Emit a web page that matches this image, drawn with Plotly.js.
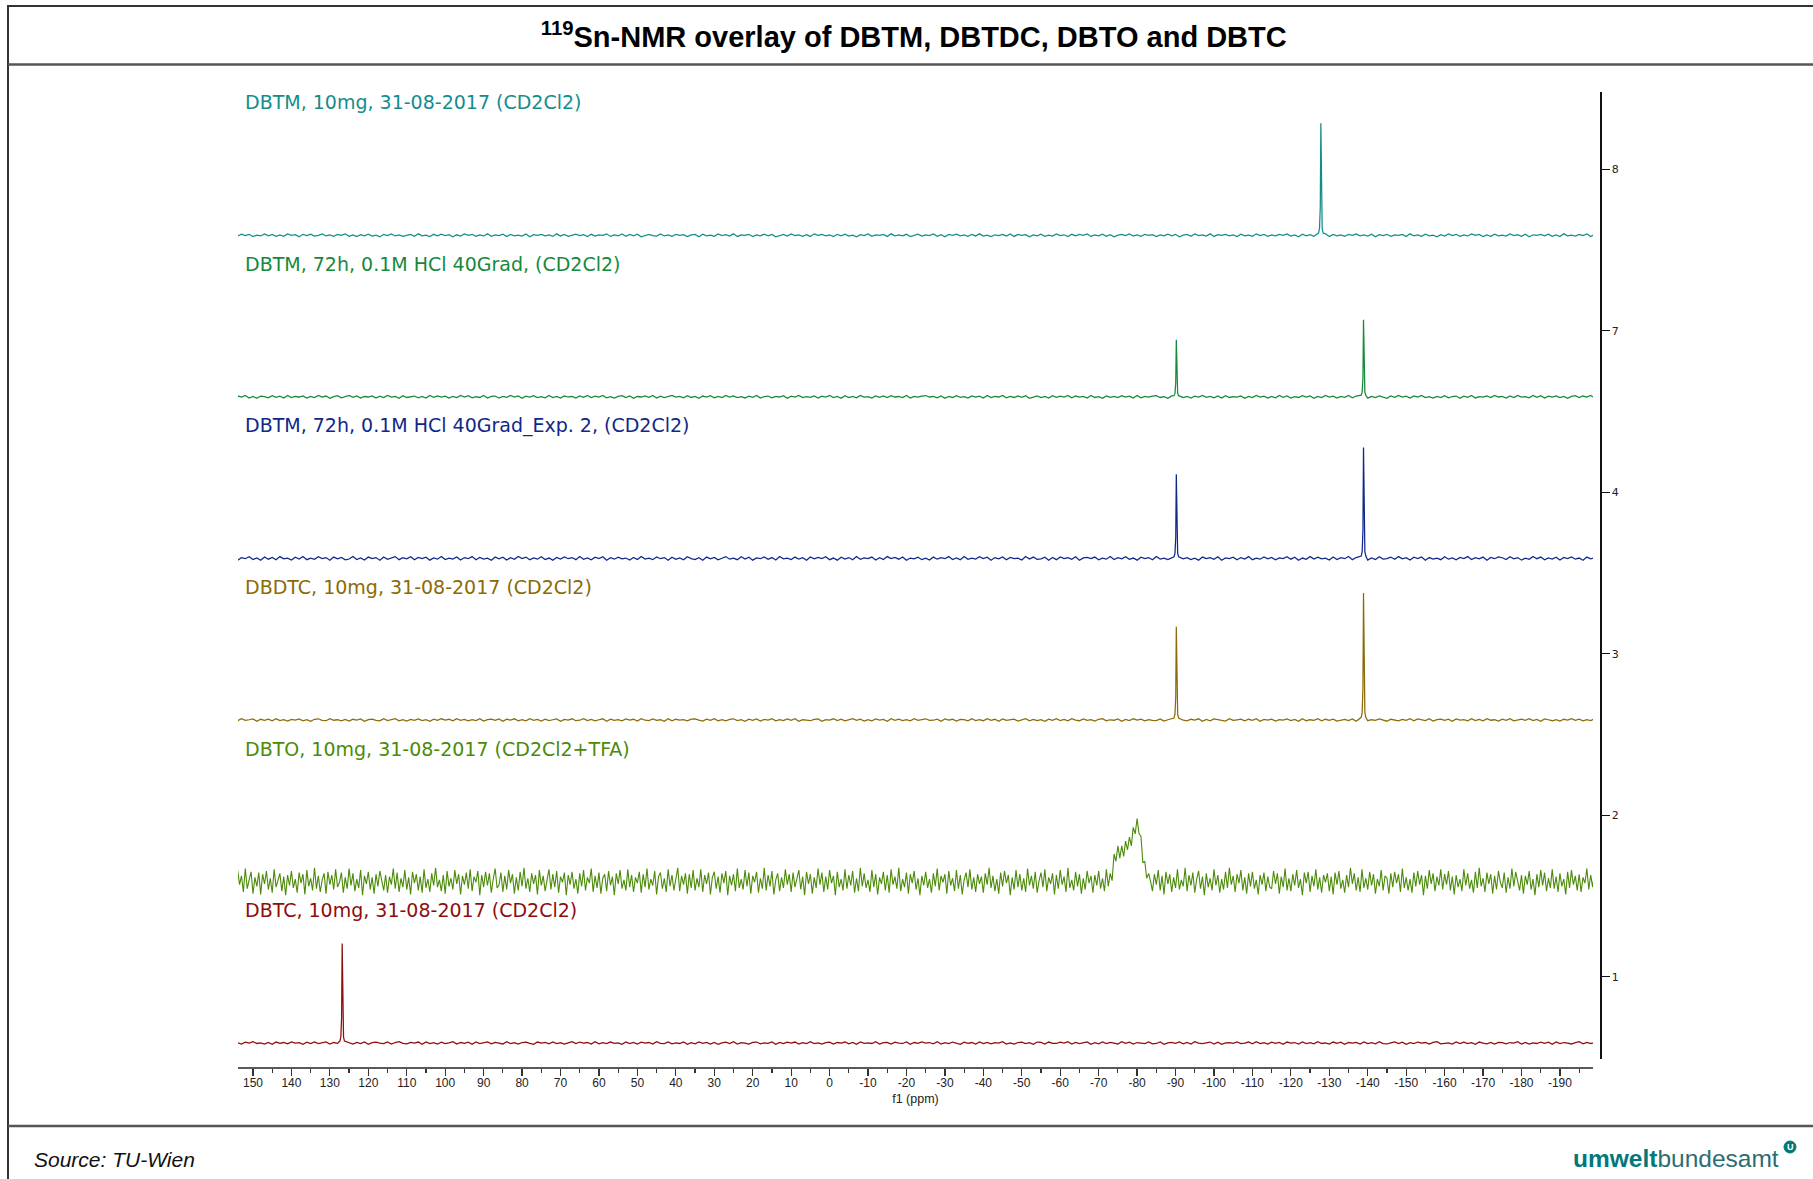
<!DOCTYPE html>
<html><head><meta charset="utf-8">
<script src="https://cdn.plot.ly/plotly-3.0.1.min.js"></script>
<style>html,body{margin:0;padding:0;background:#fff;}#chart{width:1813px;height:1179px;}</style>
</head><body><div id="chart"></div>
<script>
// ---------- DATA ----------
const traceNames = [
  "DBTM, 10mg, 31-08-2017 (CD2Cl2)",
  "DBTM, 72h, 0.1M HCl 40Grad, (CD2Cl2)",
  "DBTM, 72h, 0.1M HCl 40Grad_Exp. 2, (CD2Cl2)",
  "DBDTC, 10mg, 31-08-2017 (CD2Cl2)",
  "DBTO, 10mg, 31-08-2017 (CD2Cl2+TFA)",
  "DBTC, 10mg, 31-08-2017 (CD2Cl2)"
];
const traceIndexLabels = ["8", "7", "4", "3", "2", "1"];
const traceOffsets = [5000, 4000, 3000, 2000, 1000, 0];

const xTickVals = [150,140,130,120,110,100,90,80,70,60,50,40,30,20,10,0,-10,-20,-30,-40,-50,-60,-70,-80,-90,-100,-110,-120,-130,-140,-150,-160,-170,-180,-190];
const xTickLabels = ["150","140","130","120","110","100","90","80","70","60","50","40","30","20","10","0","-10","-20","-30","-40","-50","-60","-70","-80","-90","-100","-110","-120","-130","-140","-150","-160","-170","-180","-190"];

// baseline sampling (ppm): sharp spectra every 1 ppm, DBTO every 0.5 ppm
const fineStart = 155, fineStep = 1;
const dbtoStart = 155, dbtoStep = 0.5;

// baseline noise (intensity units), read left to right
const dbtmNoise = [
 3,-5,7,-2,6,-8,1,-4,9,-3,5,-7,2,-6,8,-1,4,-9,6,-2,7,-5,0,8,-4,3,-7,5,-1,9,
 -6,2,-8,4,-3,7,-5,1,-9,6,-2,8,-4,3,-7,0,5,-6,9,-3,1,-8,6,-4,7,-2,4,-9,3,-5,
 8,-1,6,-7,2,-4,9,-6,3,-2,7,-8,5,-3,1,-5,8,-9,4,-1,6,-3,2,-7,9,-4,5,-6,0,7,
 -2,4,-8,6,-5,3,-1,9,-7,2,-4,8,-6,5,-3,7,-9,1,6,-2,-5,8,-4,3,-7,6,-1,4,-8,2,
 5,-9,7,-3,1,-6,8,-2,4,-5,9,-7,3,-1,6,-8,2,-4,7,-3,5,-9,1,6,-5,8,-2,3,-6,4,
 -7,9,-1,5,-4,2,-8,6,-3,7,-5,1,-9,4,-2,8,-6,3,-1,5,-7,9,-3,2,-4,6,-8,1,7,-5,
 3,-2,8,-6,4,-9,5,-1,7,-3,2,-7,6,-4,9,-5,1,-8,3,-2,6,-4,8,-7,5,-1,4,-9,2,-3,
 7,-6,1,-5,9,-2,3,-8,6,-4,5,-1,8,-7,2,-3,7,-6,4,-9,1,5,-2,8,-5,3,-7,6,-1,4,
 -8,2,-4,7,-3,6,-9,1,5,-6,8,-2,3,-5,9,-7,4,-1,6,-3,2,-8,7,-4,1,-6,9,-2,5,-7,
 3,-4,6,-1,8,-5,2,-9,7,-3,4,-6,1,-2,9,-8,5,-4,3,-7,6,-1,8,-3,2,-5,7,-9,4,-2,
 6,-7,3,-1,5,-8,9,-4,2,-6,7,-3,1,-9,4,-5,8,-2,6,-7,3,-4,9,-1,5,-8,2,-6,7,-3,
 1,-5,8,-2,4,-7,6,-9,3,-1,5,-4,7,-6,2,-8,9,-3,1,-5,6,-2,8,-7,4,-3,5,-9,2,-6];
const hcl72Noise = [
 -4,6,-2,8,-7,3,-9,5,1,-6,7,-3,4,-8,9,-5,2,-1,6,-7,3,-4,8,-2,5,-9,1,7,-6,2,
 9,-3,5,-8,2,-1,6,-7,4,-5,8,-2,3,-9,7,-4,1,5,-6,2,-8,9,-3,6,-1,4,-7,3,-5,8,
 -2,7,-6,1,-4,9,-8,3,5,-7,2,-3,8,-1,6,-9,4,-2,7,-5,1,-6,9,-4,3,-8,5,-1,2,-7,
 6,-3,8,-5,4,-2,9,-6,1,-8,3,7,-4,5,-9,2,-1,6,-3,8,-7,4,-5,1,9,-2,3,-6,7,-4,
 2,-9,5,-1,7,-6,3,-4,8,-2,6,-5,1,-7,4,-3,9,-8,2,5,-6,3,-1,7,-9,4,-2,8,-5,1,
 -3,6,-7,4,-1,8,-5,2,-9,7,-4,3,-6,9,-2,1,-8,5,-3,6,-4,7,-1,2,-5,9,-7,3,-2,4,
 8,-1,3,-6,5,-9,2,-4,7,-3,1,-8,6,-2,4,-7,9,-5,3,-1,8,-6,2,-4,5,-3,7,-9,1,6,
 -5,2,-8,7,-3,4,-1,9,-6,5,-2,3,-7,8,-4,1,-9,6,-3,2,-5,7,-1,4,-8,9,-6,3,-2,5,
 7,-4,1,-9,6,-2,8,-5,3,-7,4,-1,9,-3,2,-6,5,-8,7,-4,1,-2,6,-9,3,-5,8,-1,4,-7,
 2,-6,9,-3,5,-8,1,-4,7,-2,6,-9,3,-5,8,-1,4,-7,2,-3,9,-6,5,-1,7,-8,3,-4,6,-2,
 -9,5,-3,8,-1,4,-7,6,-2,9,-5,1,-8,3,-4,7,-6,2,5,-9,4,-3,8,-7,1,-2,6,-5,9,-1,
 3,-7,5,-4,8,-2,1,-6,9,-3,7,-8,4,-1,6,-5,2,-9,3,7,-4,5,-2,8,-6,1,-3,9,-7,4];
const exp2Noise = [
 8,-11,4,-2,10,-7,3,-12,9,-5,6,-9,11,-3,1,-10,7,-4,12,-8,2,-6,10,-1,5,-11,8,-3,6,-9,
 -4,12,-7,3,-10,8,-2,5,-12,9,-6,1,11,-8,4,-3,10,-9,6,-1,7,-11,3,-5,12,-7,2,-4,9,-10,
 5,-2,11,-8,6,-4,1,-12,9,-3,7,-10,4,-6,12,-1,8,-9,3,-5,10,-7,2,-11,6,-4,9,-2,5,-8,
 11,-6,3,-9,7,-1,10,-12,4,-5,8,-3,2,-10,6,-7,12,-4,1,-8,9,-2,5,-11,7,-6,3,-9,10,-1,
 -7,4,-12,8,-3,6,-9,1,11,-5,2,-8,10,-4,7,-11,3,-2,9,-6,5,-10,12,-3,1,-7,8,-5,4,-12,
 9,-3,6,-1,10,-8,2,-11,7,-4,5,-9,12,-6,3,-2,8,-10,4,-7,11,-1,6,-5,9,-12,2,-3,7,-8,
 1,-10,8,-5,4,-2,11,-7,3,-9,12,-6,2,-4,10,-1,7,-11,5,-3,9,-8,6,-2,1,-10,12,-4,8,-6,
 -3,7,-11,5,-8,9,-1,4,-6,10,-12,3,6,-2,8,-9,1,-5,11,-7,4,-3,10,-6,2,-11,7,-1,5,-9,
 12,-4,2,-8,6,-10,9,-3,5,-7,1,-11,8,-2,4,-6,10,-12,3,-1,7,-9,5,-4,11,-8,2,-5,9,-3,
 6,-9,3,-1,10,-5,7,-12,2,-6,11,-4,8,-3,1,-10,9,-7,4,-2,12,-8,5,-1,6,-11,3,-7,10,-4,
 -2,8,-6,11,-3,4,-10,7,-1,9,-12,5,-4,2,-8,10,-5,3,-9,6,-1,11,-7,4,-3,8,-12,6,-2,9,
 4,-7,10,-3,5,-11,1,-6,12,-2,8,-9,3,-4,7,-10,6,-1,9,-5,2,-12,8,-3,5,-7,11,-4,1,-6];
const dbdtcNoise = [
 2,-5,7,-3,1,6,-8,4,-2,5,-6,8,-4,1,-7,3,-1,6,-5,2,-8,4,7,-3,-5,8,-2,1,-6,3,
 -7,4,-1,6,-8,2,5,-3,-6,7,-4,1,8,-5,2,-7,3,-2,6,-4,1,-8,5,-3,7,-1,4,-6,8,-2,
 3,-6,1,-4,8,-7,2,5,-3,6,-8,4,-1,7,-5,2,-6,8,-2,3,-7,5,-4,1,6,-8,3,-1,7,-5,
 -2,8,-4,3,-6,1,7,-8,5,-3,2,-5,6,-1,4,-7,8,-2,-4,6,-3,1,-8,7,-5,4,-1,2,-6,5,
 6,-1,-7,4,-3,8,-5,2,-6,3,7,-4,1,-8,5,-2,6,-7,3,-1,8,-5,2,-4,6,-3,7,-8,1,-2,
 -5,3,6,-8,2,-1,7,-4,5,-6,1,8,-3,4,-7,2,-5,6,-1,3,-8,7,-2,5,-4,1,-6,8,-3,4,
 7,-3,-2,5,-8,6,-1,4,-7,3,2,-6,8,-4,1,-5,7,-2,4,-8,6,-3,-1,5,-7,2,8,-6,3,-4,
 1,-8,5,-2,7,-4,3,-6,8,-1,-5,6,-3,2,-7,4,8,-5,1,-2,6,-8,3,-4,7,-1,5,-6,2,-3,
 -4,6,-7,1,5,-3,8,-2,-6,4,-1,7,-8,3,-5,6,2,-4,-7,8,-3,1,5,-6,4,-2,7,-8,3,-1,
 5,-7,2,-1,6,-4,3,-8,7,-5,1,-3,8,-6,4,-2,5,-7,-1,3,-4,6,-8,2,7,-5,1,-3,6,-2,
 -8,4,1,-6,3,-2,7,-5,6,-1,-4,8,-7,2,5,-3,4,-8,6,-1,2,-6,7,-4,3,-5,8,-2,1,-7,
 4,-3,8,-6,-1,5,-2,7,-4,3,-8,6,1,-5,2,-7,4,-1,8,-3,5,-6,2,-4,7,-8,3,-2,6,-5];
const dbtcNoise = [
 -4,2,-7,5,-1,8,-3,1,-6,4,-8,6,-2,3,-5,7,-1,2,-8,5,-3,6,-4,1,7,-6,3,-2,8,-5,
 1,-6,4,-3,7,-8,2,5,-1,-4,6,-7,3,8,-2,-5,4,-1,6,-8,7,-3,2,-6,5,-4,1,8,-7,3,
 -2,5,-8,6,-3,1,7,-5,4,-1,-6,8,-4,2,-7,3,5,-2,-8,6,-1,4,-5,7,-3,2,-6,1,8,-4,
 6,-1,3,-7,8,-5,2,-4,6,-2,1,-8,7,-3,4,-6,5,-1,3,-7,8,-2,-4,6,-5,1,-3,7,-8,2,
 -5,7,-2,4,-6,3,-8,1,5,-3,8,-6,2,-1,-7,4,6,-5,1,-2,7,-8,3,-4,5,-1,6,-7,2,-3,
 8,-4,1,-6,2,5,-7,3,-1,6,-5,4,-8,7,-2,1,-3,8,-6,2,4,-7,5,-1,-3,6,-8,3,-2,7,
 -1,3,-5,8,-7,2,-4,6,1,-8,5,-2,3,-6,7,-3,4,-5,2,-1,8,-6,1,-7,3,5,-4,2,-8,6,
 4,-7,6,-2,-3,5,-1,8,-6,3,-4,1,7,-8,2,-5,6,-3,4,-1,-7,8,-2,5,-6,3,1,-4,7,-5,
 -3,6,-8,1,4,-2,7,-5,3,-7,8,-1,-4,2,6,-6,5,-8,1,3,-2,7,-4,-1,6,-5,8,-3,2,-7,
 5,-2,4,-8,6,-1,3,-6,7,-4,2,-5,8,-3,1,-7,6,-2,5,-8,3,-1,4,-6,7,-3,2,-5,8,-4,
 -6,1,7,-3,5,-8,2,-4,6,-1,3,-7,4,8,-5,-2,1,-6,7,-3,5,-4,2,-8,6,-1,-5,3,-7,4,
 2,-5,3,-1,8,-6,4,-7,1,-3,6,-2,5,-8,7,-4,3,-1,-6,2,8,-5,4,-3,1,-7,6,-2,5,-8];
const dbtoNoise = [
 40,-55,70,-20,35,-65,80,-45,10,60,-75,25,-30,55,-80,45,-15,65,-50,20,-70,75,-35,5,50,-60,30,-85,40,-25,
 65,-40,15,-70,55,-10,45,-80,70,-30,20,-55,85,-45,35,-65,10,50,-75,60,-20,40,-50,75,-35,-5,55,-70,25,-45,
 80,-25,50,-60,15,-40,70,-85,35,-15,60,-50,25,-75,45,-30,65,5,-55,40,-70,30,-20,80,-45,55,-65,20,-35,70,
 -50,25,-80,60,-10,45,-55,30,-70,75,-40,15,-65,50,-25,85,-35,10,-60,40,-75,65,-30,20,-50,70,-15,45,-80,35,
 -20,55,-45,75,-60,30,-5,65,-85,40,-35,60,-25,50,-70,15,80,-40,-20,55,-65,35,-50,70,-10,45,-75,25,-55,60,
 -30,85,-45,20,-65,50,-15,40,-80,70,-25,35,-60,10,75,-50,45,-35,65,-70,30,-5,55,-85,40,-20,60,-45,15,-75,
 50,-30,70,-55,25,-10,80,-65,35,-40,55,-75,20,45,-60,65,-25,30,-85,50,-15,70,-45,10,-55,75,-35,40,-65,25,
 -10,60,-70,45,-35,80,-50,15,-25,65,-80,30,55,-45,20,-65,75,-30,40,-55,10,85,-60,35,-20,50,-75,45,-40,70,
 -55,20,-35,75,-65,40,-15,55,-80,25,60,-45,30,-70,50,-10,65,-85,35,-25,45,-60,80,-40,15,-50,70,-30,55,-75,
 35,-5,60,-70,20,-45,85,-55,40,-30,65,-80,10,50,-60,25,-40,75,-20,45,-65,55,-35,15,70,-50,30,-85,60,-15,
 45,-75,25,-40,80,-20,55,-65,30,-50,70,-10,35,-85,60,-35,15,-55,75,-45,40,-25,65,-70,20,-60,85,-30,50,-40,
 10,-65,70,-35,45,-80,25,-15,60,-55,40,-70,75,-20,30,-45,85,-60,15,-35,55,-75,45,-10,65,-50,20,-85,35,-25,
 60,-40,15,-70,50,-30,80,-55,35,-5,45,-75,65,-25,20,-60,70,-45,40,-80,10,55,-35,75,-50,25,-65,45,-15,30,
 -70,50,-20,85,-40,35,-60,15,-75,55,-30,65,-10,40,-85,25,-50,70,-35,45,-55,20,-65,80,-25,35,-45,60,-70,5,
 55,-35,75,-60,25,-15,50,-80,40,-45,70,-20,30,-65,85,-40,10,-55,60,-30,45,-75,20,-50,65,-10,35,-70,40,-25,
 65,-45,20,-60,75,-30,50,-35,20,-40,45,-35,30,-45,40,-30,35,-40,45,-25,30,-35,40,-45,35,-30,25,-10,-60,45,
 -20,70,-55,35,-80,60,-15,45,-65,25,-40,75,-50,10,-30,85,-60,40,-25,55,-70,15,65,-45,30,-85,50,-35,20,-55,
 75,-25,40,-70,15,-50,60,-40,85,-20,35,-65,45,-10,70,-55,25,-75,50,-30,60,-45,10,-80,40,-20,55,-60,30,-35,
 -45,65,-15,50,-75,30,-35,80,-55,20,-60,45,-25,70,-40,15,-85,55,-10,60,-65,35,-30,75,-50,25,-70,40,-5,50,
 -60,30,-80,55,-20,65,-45,10,-70,40,-35,85,-15,50,-55,25,-65,75,-40,20,-50,60,-25,45,-75,15,-30,70,-55,35,
 20,-75,50,-35,60,-10,45,-65,80,-40,25,-55,15,-70,55,-30,65,-20,40,-85,35,-45,70,-15,50,-60,30,-25,75,-50,
 45,-20,65,-55,30,-80,40,-35,15,-60,75,-25,50,-45,10,-70,60,-40,85,-30,20,-65,55,-15,45,-75,35,-50,65,-5,
 -40,55,-70,25,-45,80,-30,60,-10,-55,40,-75,35,-20,65,-50,15,-85,45,-35,70,-25,55,-60,20,-40,75,-45,30,-65,
 50,-30,15,-80,60,-40,70,-20,35,-55,45,-65,25,-10,80,-50,40,-35,55,-70,20,-45,65,-25,30,-60,10,-75,50,-40];

// sharp resonances (ppm, intensity)
const dbtmPeakPpm = [-127.2,-127.45,-127.65,-127.8,-127.95,-128.15,-128.4];
const dbtmPeakVal = [14,42,173,693,173,42,14];
const hcl72PeakPpm = [-89.6,-89.85,-90.05,-90.2,-90.35,-90.55,-90.8,-138.3,-138.55,-138.75,-138.9,-139.05,-139.25,-139.5];
const hcl72PeakVal = [7,21,88,353,88,21,7,10,29,119,477,119,29,10];
const exp2PeakPpm = [-89.6,-89.85,-90.05,-90.2,-90.35,-90.55,-90.8,-138.3,-138.55,-138.75,-138.9,-139.05,-139.25,-139.5];
const exp2PeakVal = [10,31,130,520,130,31,10,14,41,172,687,172,41,14];
const dbdtcPeakPpm = [-89.6,-89.85,-90.05,-90.2,-90.35,-90.55,-90.8,-138.3,-138.55,-138.75,-138.9,-139.05,-139.25,-139.5];
const dbdtcPeakVal = [12,35,144,576,144,35,12,16,47,196,786,196,47,16];
const dbtcPeakPpm = [127.4,127.15,126.95,126.8,126.65,126.45,126.2];
const dbtcPeakVal = [12,37,154,616,154,37,12];
// broad DBTO resonance
const dbtoHumpPpm = [-73.5,-74,-74.5,-75,-75.5,-76,-76.5,-77,-77.5,-78,-78.5,-79,-79.5,-80,-80.5,-81,-81.5,-82,-82.5,-83,-83.5];
const dbtoHumpVal = [40,150,165,175,180,190,200,210,225,240,260,290,320,360,330,240,160,90,50,25,10];

const traceColors = ["#138d8c", "#16893a", "#10288a", "#8c6b06", "#4b8b0a", "#8e0d0d"];

// ---------- BUILD ----------
function buildFine(noise, peakPpm, peakVal) {
  const pts = [];
  noise.forEach((v, i) => {
    const x = fineStart - i * fineStep;
    if (!peakPpm.some(p => Math.abs(p - x) < 0.5)) pts.push([x, v]);
  });
  peakPpm.forEach((p, i) => pts.push([p, peakVal[i]]));
  pts.sort((a, b) => b[0] - a[0]);
  return pts;
}
function buildDbto() {
  const ys = dbtoNoise.slice();
  dbtoHumpPpm.forEach((p, k) => {
    const i = Math.round((dbtoStart - p) / dbtoStep);
    ys[i] += dbtoHumpVal[k];
  });
  return ys.map((v, i) => [dbtoStart - i * dbtoStep, v]);
}
const spectra = [
  buildFine(dbtmNoise, dbtmPeakPpm, dbtmPeakVal),
  buildFine(hcl72Noise, hcl72PeakPpm, hcl72PeakVal),
  buildFine(exp2Noise, exp2PeakPpm, exp2PeakVal),
  buildFine(dbdtcNoise, dbdtcPeakPpm, dbdtcPeakVal),
  buildDbto(),
  buildFine(dbtcNoise, dbtcPeakPpm, dbtcPeakVal)
];

const traces = spectra.map((pts, k) => ({
  type: 'scatter', mode: 'lines',
  x: pts.map(p => p[0]),
  y: pts.map(p => p[1] + traceOffsets[k]),
  line: {color: traceColors[k], width: k === 4 ? 1.1 : 1.25},
  hoverinfo: 'skip', showlegend: false
}));

// pixel helpers for decorations (plot area: x 238..1600, y 92..1068)
const PL = 238, PW = 1362, PB = 1068, PH = 976;
const px = v => (v - PL) / PW;
const py = v => (PB - v) / PH;

const labelLift = 823;   // label height above baseline (intensity units)
const tickLift = 409;    // index tick height above baseline

const annotations = traceNames.map((t, k) => ({
  text: t, xref: 'paper', yref: 'y', x: px(243), y: traceOffsets[k] + labelLift,
  xanchor: 'left', yanchor: 'middle', showarrow: false,
  font: {family: 'DejaVu Sans, Verdana, sans-serif', size: 19, color: traceColors[k]}
}));
annotations.push({
  text: 'Source: TU-Wien', xref: 'paper', yref: 'paper', x: px(32), y: py(1159),
  xanchor: 'left', yanchor: 'middle', showarrow: false,
  font: {family: 'Liberation Sans, Arial, sans-serif', size: 21, color: '#111', style: 'italic'}
});
annotations.push({
  text: "<b><span style='color:#00787c'>umwelt</span></b><span style='color:#2b6e72'>bundesamt</span>",
  xref: 'paper', yref: 'paper', x: px(1781), y: py(1158),
  xanchor: 'right', yanchor: 'middle', showarrow: false,
  font: {family: 'Liberation Sans, Arial, sans-serif', size: 24.5, color: '#00787c'}
});
annotations.push({
  text: '<b>U</b>', xref: 'paper', yref: 'paper', x: px(1790), y: py(1147),
  xanchor: 'center', yanchor: 'middle', showarrow: false,
  font: {family: 'Liberation Sans, Arial, sans-serif', size: 9, color: '#ffffff'}
});

const shapes = [
  {type: 'rect', xref: 'paper', yref: 'paper', x0: px(8), x1: px(1820), y0: py(6), y1: py(1190),
   line: {color: '#333', width: 2}, fillcolor: 'rgba(0,0,0,0)'},
  {type: 'line', xref: 'paper', yref: 'paper', x0: px(8), x1: px(1820), y0: py(64.5), y1: py(64.5),
   line: {color: '#555', width: 2.5}},
  {type: 'line', xref: 'paper', yref: 'paper', x0: px(8), x1: px(1820), y0: py(1126), y1: py(1126),
   line: {color: '#555', width: 2.5}},
  {type: 'circle', xref: 'paper', yref: 'paper', x0: px(1784), x1: px(1796), y0: py(1141), y1: py(1153),
   line: {color: '#00787c', width: 1}, fillcolor: '#00787c'}
];

const layout = {
  width: 1813, height: 1179,
  margin: {l: 238, r: 213, t: 92, b: 111, pad: 0},
  paper_bgcolor: '#fff', plot_bgcolor: '#fff',
  showlegend: false,
  title: {
    text: '<b><sup>119</sup>Sn-NMR overlay of DBTM, DBTDC, DBTO and DBTC</b>',
    font: {family: 'Liberation Sans, Arial, sans-serif', size: 29, color: '#000'},
    xref: 'container', yref: 'container', x: 0.504, y: 1 - 37 / 1179,
    xanchor: 'center', yanchor: 'middle'
  },
  xaxis: {
    domain: [0, (1593 - 238) / 1362], range: [153.9, -198.6],
    anchor: 'free', position: 0,
    showline: true, linecolor: '#5a5a5a', linewidth: 2,
    ticks: 'outside', ticklen: 7, tickwidth: 1.2, tickcolor: '#333',
    tickmode: 'array', tickvals: xTickVals, ticktext: xTickLabels,
    ticklabelstandoff: -3,
    tickfont: {family: 'Liberation Sans, Arial, sans-serif', size: 12, color: '#222'},
    minor: {dtick: 5, tick0: 0, ticklen: 4, tickwidth: 1.2, tickcolor: '#333', ticks: 'outside', showgrid: false},
    showgrid: false, zeroline: false, fixedrange: true,
    title: {text: 'f1 (ppm)', standoff: 4, font: {family: 'Liberation Sans, Arial, sans-serif', size: 12.5, color: '#222'}}
  },
  yaxis: {
    domain: [9 / 976, 1], range: [-99, 5887],
    side: 'right', anchor: 'free', position: 1,
    showline: true, linecolor: '#111', linewidth: 1.5,
    ticks: 'outside', ticklen: 8, tickwidth: 1, tickcolor: '#111',
    tickmode: 'array', tickvals: traceOffsets.map(o => o + tickLift), ticktext: traceIndexLabels,
    tickfont: {family: 'DejaVu Sans, Verdana, sans-serif', size: 11, color: '#222'},
    showgrid: false, zeroline: false, fixedrange: true
  },
  annotations: annotations,
  shapes: shapes
};

Plotly.newPlot('chart', traces, layout, {displayModeBar: false, staticPlot: true});
</script>
</body></html>
